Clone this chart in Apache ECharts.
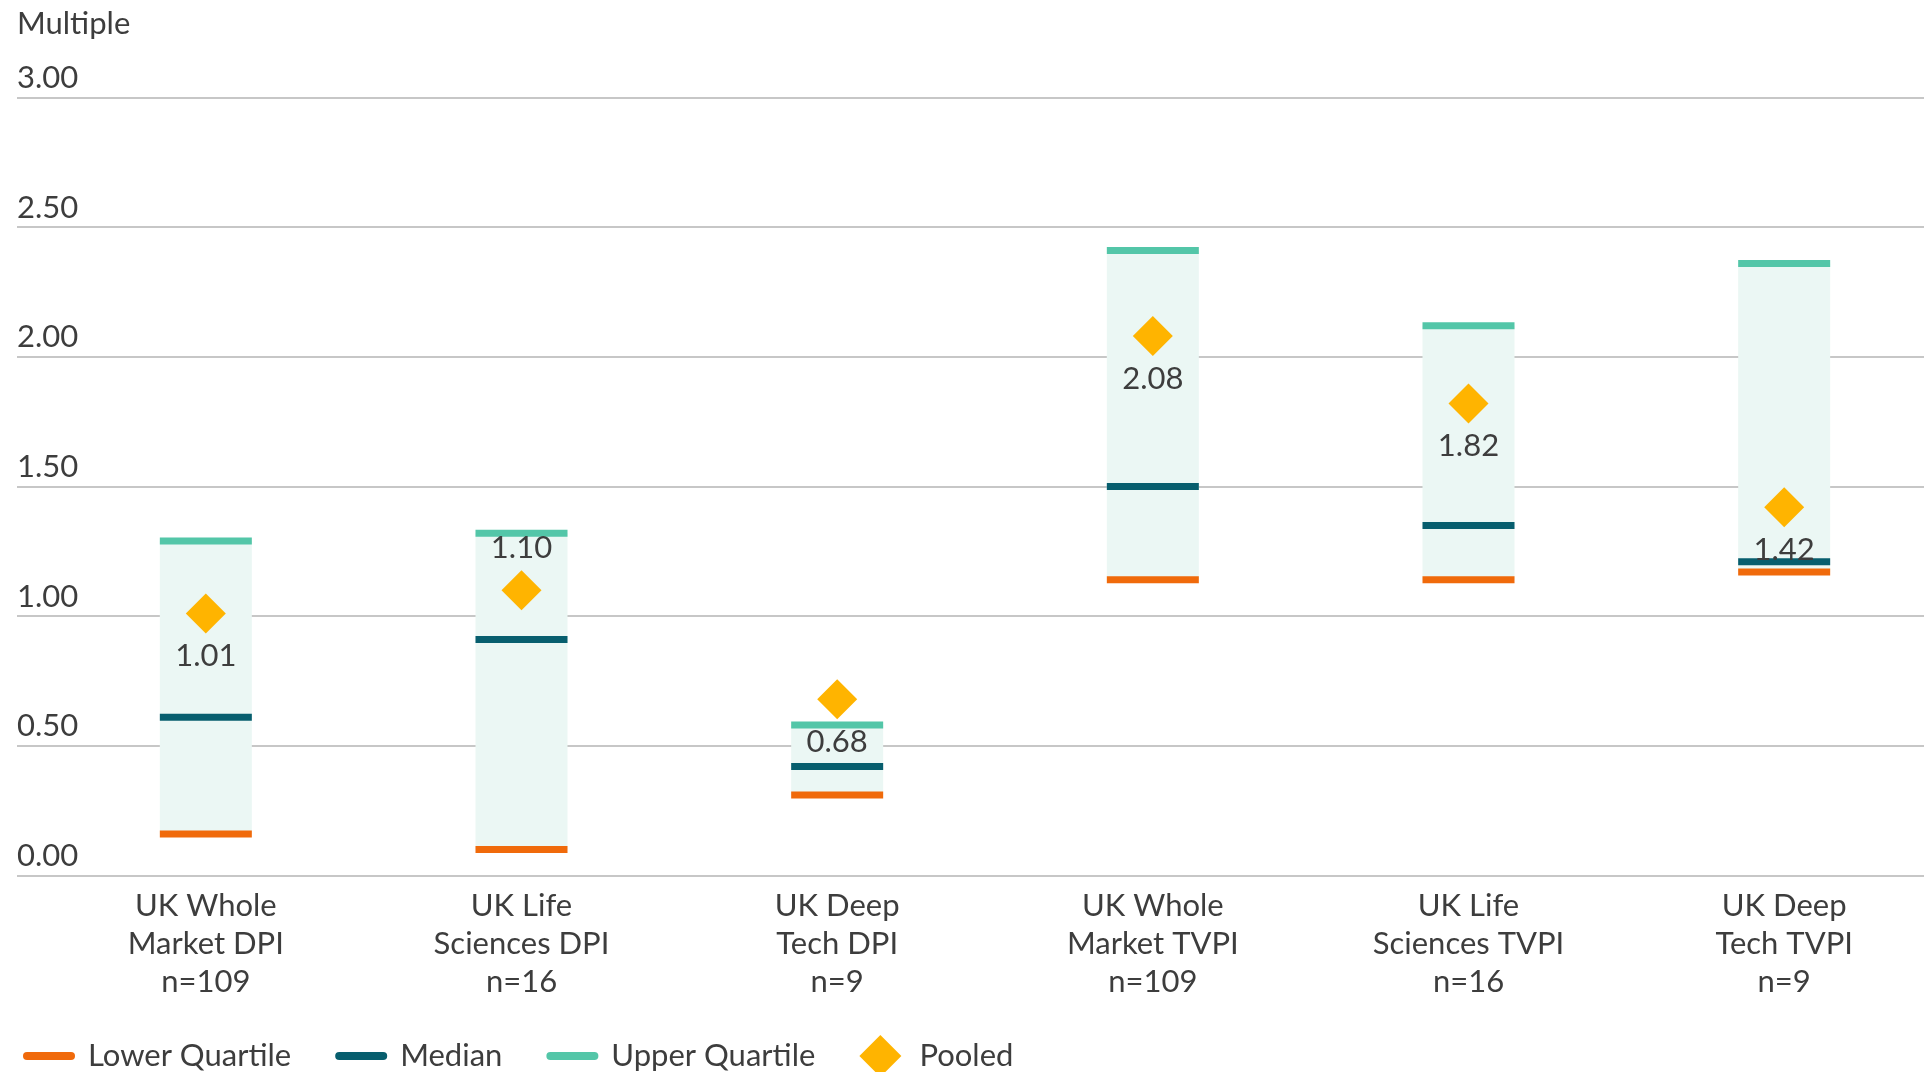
<!DOCTYPE html>
<html>
<head>
<meta charset="utf-8">
<script src="https://cdn.jsdelivr.net/npm/echarts@6/dist/echarts.min.js"></script>
<style>
  html, body { margin: 0; padding: 0; background: #fff; }
  #chart { width: 1931px; height: 1072px; }
</style>
</head>
<body>
<div id="chart"></div>
<script>
// categories and values
const categories = [
  'UK Whole\nMarket DPI\nn=109',
  'UK Life\nSciences DPI\nn=16',
  'UK Deep\nTech DPI\nn=9',
  'UK Whole\nMarket TVPI\nn=109',
  'UK Life\nSciences TVPI\nn=16',
  'UK Deep\nTech TVPI\nn=9'
]
const lowerQuartile = [0.16, 0.10, 0.31, 1.14, 1.14, 1.17]
const median = [0.61, 0.91, 0.42, 1.50, 1.35, 1.21]
const upperQuartile = [1.29, 1.32, 0.58, 2.41, 2.12, 2.36]
const pooled = [1.01, 1.10, 0.68, 2.08, 1.82, 1.42]
const yTicks = { min: 0, max: 3, interval: 0.5 }

// label sits above the diamond only where it would clash with the box top
const pooledLabelPos = ['bottom', 'top', 'bottom', 'bottom', 'bottom', 'bottom']

const FONT = 'Lato'
const FS = 31
const TEXT = '#3d3d3d'
const C_LOWER = '#F06A0B'
const C_MEDIAN = '#075E6E'
const C_UPPER = '#53C6A8'
const C_POOLED = '#FFB400'
const C_BOX = '#EBF7F4'

const lineIcon = 'path://M4,0 L48,0 A4,4 0 0 1 48,8 L4,8 A4,4 0 0 1 4,0 Z'
const diamondIcon = 'path://M21,0 L42,21 L21,42 L0,21 Z'

const chart = echarts.init(document.getElementById('chart'))

function quartileSeries(name, data, color) {
  return {
    name,
    type: 'scatter',
    xAxisIndex: 1,
    yAxisIndex: 1,
    symbol: 'rect',
    symbolSize: [92, 7],
    itemStyle: { color, opacity: 1 },
    z: 3,
    data
  }
}

chart.setOption({
  animation: false,
  textStyle: { fontFamily: FONT },
  title: {
    text: 'Multiple',
    left: 17,
    top: 8,
    padding: 0,
    textStyle: { fontFamily: FONT, fontSize: FS, fontWeight: 'normal', color: TEXT }
  },
  legend: {
    left: 18,
    top: 1030,
    itemWidth: 52,
    itemHeight: 42,
    itemGap: 44,
    selectedMode: false,
    symbolKeepAspect: true,
    textStyle: { fontFamily: FONT, fontSize: FS, color: TEXT, padding: [0, 0, 0, 8] },
    data: [
      { name: 'Lower Quartile', icon: lineIcon, itemStyle: { color: C_LOWER } },
      { name: 'Median', icon: lineIcon, itemStyle: { color: C_MEDIAN } },
      { name: 'Upper Quartile', icon: lineIcon, itemStyle: { color: C_UPPER } },
      { name: 'Pooled', icon: diamondIcon, itemStyle: { color: C_POOLED } }
    ]
  },
  grid: [
    // gridlines + y labels
    { left: 17, right: 7, top: 97.5, bottom: 196.5 },
    // boxes and markers (category bands run a little past the right edge)
    { left: 48, width: 1894, top: 97.5, bottom: 196.5, outerBoundsMode: 'none' }
  ],
  xAxis: [
    {
      gridIndex: 0,
      type: 'category',
      data: categories,
      axisLine: { show: false },
      axisTick: { show: false },
      axisLabel: { show: false }
    },
    {
      gridIndex: 1,
      type: 'category',
      data: categories,
      axisLine: { show: false },
      axisTick: { show: false },
      axisLabel: {
        fontFamily: FONT,
        fontSize: FS,
        lineHeight: 38,
        color: TEXT,
        margin: 11,
        interval: 0
      }
    }
  ],
  yAxis: [
    {
      gridIndex: 0,
      type: 'value',
      min: yTicks.min,
      max: yTicks.max,
      interval: yTicks.interval,
      axisLine: { show: false },
      axisTick: { show: false },
      splitLine: { lineStyle: { color: '#b4b4b4', width: 1.5 } },
      axisLabel: {
        inside: true,
        margin: 0,
        align: 'left',
        verticalAlign: 'bottom',
        padding: [0, 0, 4, 0],
        fontFamily: FONT,
        fontSize: FS,
        color: TEXT,
        formatter: v => v.toFixed(2)
      }
    },
    {
      gridIndex: 1,
      type: 'value',
      min: yTicks.min,
      max: yTicks.max,
      interval: yTicks.interval,
      show: false,
      splitLine: { show: false }
    }
  ],
  series: [
    {
      name: 'base',
      type: 'bar',
      xAxisIndex: 1,
      yAxisIndex: 1,
      stack: 'box',
      barWidth: 92,
      itemStyle: { color: 'transparent' },
      data: lowerQuartile
    },
    {
      name: 'range',
      type: 'bar',
      xAxisIndex: 1,
      yAxisIndex: 1,
      stack: 'box',
      barWidth: 92,
      itemStyle: { color: C_BOX },
      data: upperQuartile.map((u, i) => +(u - lowerQuartile[i]).toFixed(3))
    },
    quartileSeries('Lower Quartile', lowerQuartile, C_LOWER),
    quartileSeries('Median', median, C_MEDIAN),
    quartileSeries('Upper Quartile', upperQuartile, C_UPPER),
    {
      name: 'Pooled',
      type: 'scatter',
      xAxisIndex: 1,
      yAxisIndex: 1,
      symbol: 'diamond',
      symbolSize: 40,
      itemStyle: { color: C_POOLED, opacity: 1 },
      z: 4,
      data: pooled.map((v, i) => ({
        value: v,
        label: { position: pooledLabelPos[i] }
      })),
      label: {
        show: true,
        distance: 7,
        fontFamily: FONT,
        fontSize: FS,
        color: TEXT,
        formatter: p => p.value.toFixed(2)
      }
    }
  ]
})
</script>
</body>
</html>
